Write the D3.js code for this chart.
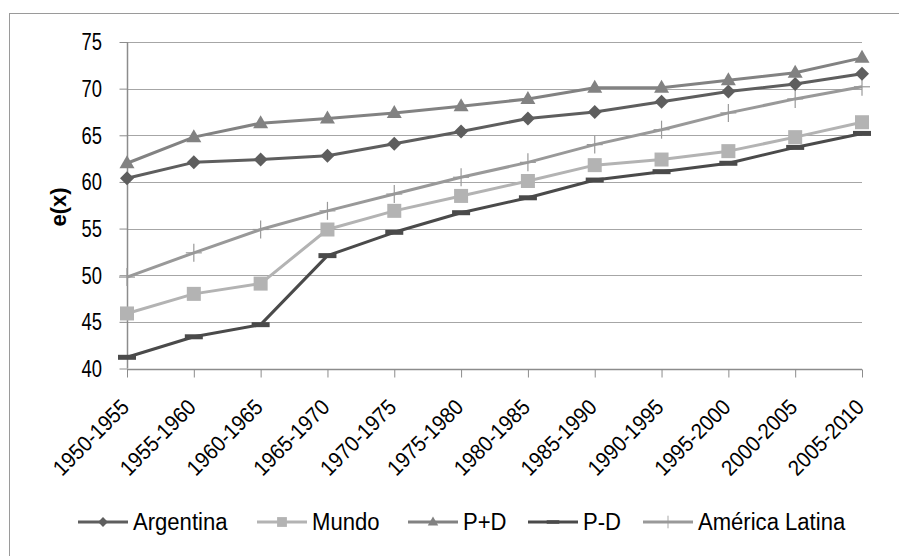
<!DOCTYPE html>
<html><head><meta charset="utf-8">
<script src="https://cdn.jsdelivr.net/npm/d3@7"></script>
<style>body{margin:0;background:#fff}svg{display:block}text{font-family:"Liberation Sans","Arial",sans-serif;fill:#000}</style>
</head><body><svg id="c" width="899" height="556"></svg>
<script>
const categories = ["1950-1955","1955-1960","1960-1965","1965-1970","1970-1975","1975-1980","1980-1985","1985-1990","1990-1995","1995-2000","2000-2005","2005-2010"];
const argentina = [60.4,62.1,62.4,62.8,64.1,65.4,66.8,67.5,68.6,69.7,70.5,71.6];
const mundo     = [45.9,48.0,49.1,54.9,56.9,58.5,60.1,61.8,62.4,63.3,64.8,66.4];
const pmasd     = [62.0,64.8,66.3,66.8,67.4,68.1,68.9,70.1,70.1,70.9,71.7,73.3];
const pmenosd   = [41.2,43.4,44.7,52.1,54.6,56.7,58.3,60.2,61.1,62.0,63.7,65.2];
const amlat     = [49.8,52.4,54.9,56.9,58.7,60.5,62.1,64.0,65.6,67.4,68.9,70.2];
const yTicks = [40,45,50,55,60,65,70,75];
const seriesNames = ["Argentina","Mundo","P+D","P-D","América Latina"];

const series = [
  {name:seriesNames[0], values:argentina, color:"#5e5e5e", marker:"diamond"},
  {name:seriesNames[1], values:mundo, color:"#b3b3b3", marker:"square"},
  {name:seriesNames[2], values:pmasd, color:"#828282", marker:"triangle"},
  {name:seriesNames[3], values:pmenosd, color:"#4a4a4a", marker:"dash"},
  {name:seriesNames[4], values:amlat, color:"#999999", marker:"plus"}
];

const svg = d3.select("#c");
svg.append("rect").attr("x",9.5).attr("y",13.5).attr("width",900).attr("height",560)
  .attr("fill","#fff").attr("stroke","#9a9a9a").attr("stroke-width",1);

const x = d3.scalePoint().domain(categories).range([127,862]);
const y = d3.scaleLinear().domain([40,75]).range([368.5,42]);

// gridlines
svg.append("g").selectAll("line").data(yTicks.slice(1)).join("line")
  .attr("x1",127).attr("x2",862).attr("y1",d=>Math.round(y(d))+0.5).attr("y2",d=>Math.round(y(d))+0.5)
  .attr("stroke","#a6a6a6").attr("stroke-width",1);

// y axis
const ya = svg.append("g").attr("transform","translate(127.5,0)")
  .call(d3.axisLeft(y).tickValues(yTicks).tickSize(8).tickPadding(10));
ya.select(".domain").attr("stroke","#8c8c8c").attr("stroke-width",1.5).attr("d",`M0,${y(40)}V${y(75)}`);
ya.selectAll(".tick line").attr("stroke","#8c8c8c");
ya.selectAll(".tick text").attr("font-size",23).attr("fill","#000")
  .attr("x",0).attr("dy","0.34em").attr("transform","translate(-25.5,0) scale(0.8,1)");

// x axis
const xa = svg.append("g").attr("transform",`translate(0,${Math.round(y(40))+0.5})`)
  .call(d3.axisBottom(x).tickSize(8).tickPadding(0));
xa.select(".domain").attr("stroke","#8c8c8c").attr("stroke-width",1.5).attr("d","M127,0H862");
xa.selectAll(".tick line").attr("stroke","#8c8c8c");
xa.selectAll(".tick text").attr("font-size",22).attr("text-anchor","end").attr("fill","#000")
  .attr("x",0).attr("y",0).attr("dy",0).attr("transform","translate(3,39) rotate(-45) scale(0.92,1)");

// y title
svg.append("text").attr("transform",`translate(58,207) rotate(-90)`)
  .attr("text-anchor","middle").attr("dy","0.35em").attr("font-size",22).attr("font-weight","bold")
  .text("e(x)");

function drawMarker(g, type, color){
  if(type==="diamond") g.append("path").attr("d","M0,-7L7,0L0,7L-7,0Z").attr("fill",color);
  else if(type==="square") g.append("rect").attr("x",-7).attr("y",-7).attr("width",14).attr("height",14).attr("fill",color);
  else if(type==="triangle") g.append("path").attr("d","M0,-8L7.5,5L-7.5,5Z").attr("fill",color);
  else if(type==="dash") g.append("rect").attr("x",-9).attr("y",-2.5).attr("width",18).attr("height",5).attr("fill",color);
  else if(type==="plus"){
    g.append("line").attr("x1",0).attr("x2",0).attr("y1",-9).attr("y2",9).attr("stroke",color).attr("stroke-width",1.2);
    g.append("line").attr("x1",-8).attr("x2",8).attr("y1",0).attr("y2",0).attr("stroke",color).attr("stroke-width",1.2);
  }
}

const line = d3.line().x((d,i)=>x(categories[i])).y(d=>y(d));
const order = [4,1,3,0,2];
order.forEach(k=>{
  const s = series[k];
  const g = svg.append("g");
  g.append("path").attr("d",line(s.values)).attr("fill","none").attr("stroke",s.color).attr("stroke-width",3).attr("stroke-linejoin","round");
  s.values.forEach((v,i)=>{
    const m = g.append("g").attr("transform",`translate(${x(categories[i])},${y(v)})`);
    drawMarker(m, s.marker, s.color);
  });
});

// legend
const legX = [78,257,408,528,643];
const leg = svg.append("g");
series.forEach((s,i)=>{
  const gg = leg.append("g").attr("transform",`translate(${legX[i]},522)`);
  gg.append("line").attr("x1",0).attr("x2",50).attr("stroke",s.color).attr("stroke-width",3);
  const m = gg.append("g").attr("transform","translate(25,0) scale(0.7)");
  drawMarker(m, s.marker, s.color);
  gg.append("text").attr("x",0).attr("y",0).attr("dy","0.35em").attr("font-size",23)
    .attr("transform","translate(55,0) scale(0.96,1)").text(s.name);
});
</script>
</body></html>
